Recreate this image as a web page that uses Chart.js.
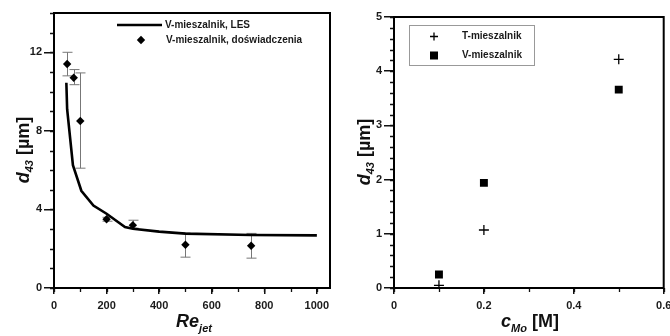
<!DOCTYPE html>
<html>
<head>
<meta charset="utf-8">
<title>d43 - mieszalniki</title>
<script src="https://cdn.jsdelivr.net/npm/chart.js"></script>
<style>
    body { margin: 0; background: #fff; }
    .panel { position: absolute; top: 0; width: 335px; height: 336px; }
    #leftPanel { left: 0; }
    #rightPanel { left: 335px; }
</style>
</head>
<body>
<div class="panel" id="leftPanel"><canvas id="leftChart"></canvas></div>
<div class="panel" id="rightPanel"><canvas id="rightChart"></canvas></div>

<script>
    // left panel: d43 vs Re_jet
    const lesRe  = [47, 50, 72, 104, 150, 200, 270, 300, 400, 500, 750, 1000];
    const lesD43 = [10.45, 9.1, 6.25, 4.95, 4.2, 3.78, 3.1, 3.02, 2.87, 2.77, 2.7, 2.68];
    const expRe   = [50, 75, 100, 200, 300, 500, 750];
    const expD43  = [11.4, 10.7, 8.5, 3.5, 3.2, 2.2, 2.15];
    const expLow  = [10.8, 10.35, 6.1, 3.4, 3.05, 1.57, 1.52];
    const expHigh = [12.0, 11.12, 10.95, 3.6, 3.45, 2.8, 2.78];

    // right panel: d43 vs c_Mo
    const cMo    = [0.1, 0.2, 0.5];
    const tMixer = [0.05, 1.07, 4.22];
    const vMixer = [0.25, 1.94, 3.66];

    const FONT = 'Arial, "Liberation Sans", sans-serif';

    function drawParts(ctx, parts) {
        // parts drawn left to right, centred on the current origin
        let total = 0;
        parts.forEach(p => { ctx.font = p.font; total += ctx.measureText(p.t).width; });
        let x = -total / 2;
        parts.forEach(p => {
            ctx.font = p.font;
            ctx.fillText(p.t, x, p.dy);
            x += ctx.measureText(p.t).width;
        });
    }

    function minorTicks(ctx, chart, axis, step) {
        const s = chart.scales[axis];
        const a = chart.chartArea;
        ctx.save();
        ctx.strokeStyle = '#111';
        ctx.lineWidth = 1.3;
        ctx.beginPath();
        for (let v = s.min; v <= s.max + 1e-9; v += step) {
            const p = Math.round(s.getPixelForValue(v)) + 0.5;
            if (axis === 'x') { ctx.moveTo(p, a.bottom); ctx.lineTo(p, a.bottom + 4); }
            else { ctx.moveTo(a.left - 4, p); ctx.lineTo(a.left, p); }
        }
        ctx.stroke();
        ctx.restore();
    }

    // plugin factory, config kept out of chart options (functions there get resolved as scriptables)
    function makeDeco(o) {
        return {
            id: 'deco',
            beforeDatasetsDraw(chart) {
                if (o.errors) o.errors(chart);
            },
            afterDraw(chart) {
                const ctx = chart.ctx;
                const a = chart.chartArea;
                minorTicks(ctx, chart, 'x', o.minorX);
                minorTicks(ctx, chart, 'y', o.minorY);
                ctx.save();
                ctx.strokeStyle = '#000';
                ctx.lineWidth = 2;
                ctx.strokeRect(a.left, a.top, a.right - a.left, a.bottom - a.top);
                ctx.fillStyle = '#111';
                ctx.textBaseline = 'alphabetic';
                ctx.save();
                ctx.translate(o.xTitlePos[0], o.xTitlePos[1]);
                drawParts(ctx, o.xTitle);
                ctx.restore();
                ctx.save();
                ctx.translate(o.yTitlePos[0], o.yTitlePos[1]);
                ctx.rotate(-Math.PI / 2);
                drawParts(ctx, o.yTitle);
                ctx.restore();
                ctx.restore();
                o.legend(chart);
            }
        };
    }

    function axisOpts(min, max, step, width, height, fmt, tick, pad) {
        return {
            type: 'linear',
            min: min,
            max: max,
            afterFit(s) {
                if (width) s.width = width;
                if (height) s.height = height;
                s.paddingLeft = 0; s.paddingRight = 0;
                s.paddingTop = 0; s.paddingBottom = 0;
            },
            grid: { drawOnChartArea: false, drawTicks: true, tickLength: tick, color: '#111', lineWidth: 1.5 },
            border: { display: false },
            ticks: {
                stepSize: step,
                includeBounds: false,
                padding: pad,
                color: '#1a1a1a',
                font: { family: FONT, size: 11, weight: 'bold' },
                callback: fmt || (v => v)
            }
        };
    }

    // ---------- left chart ----------
    new Chart(document.getElementById('leftChart'), {
        type: 'scatter',
        data: {
            datasets: [
                {
                    label: 'V-mieszalnik, LES',
                    type: 'line',
                    data: lesRe.map((x, i) => ({ x: x, y: lesD43[i] })),
                    borderColor: '#000',
                    borderWidth: 2.6,
                    pointRadius: 0,
                    tension: 0,
                    order: 1
                },
                {
                    label: 'V-mieszalnik, doświadczenia',
                    data: expRe.map((x, i) => ({ x: x, y: expD43[i] })),
                    pointStyle: 'rectRot',
                    pointRadius: 4.2,
                    backgroundColor: '#000',
                    borderColor: '#000',
                    borderWidth: 0,
                    order: 0
                }
            ]
        },
        options: {
            responsive: true,
            maintainAspectRatio: false,
            animation: false,
            layout: { padding: { left: 0, right: 5, top: 13, bottom: 0 } },
            scales: {
                x: axisOpts(0, 1050, 200, 0, 48, null, 6, 5),
                y: axisOpts(0, 14, 4, 54, 0, null, 10, 2)
            },
            plugins: {
                legend: { display: false },
                tooltip: { enabled: false }
            }
        },
        plugins: [makeDeco({
            minorX: 100,
            minorY: 1,
            xTitlePos: [194, 327],
            xTitle: [
                { t: 'Re', font: 'italic bold 18px ' + FONT, dy: 0 },
                { t: 'jet', font: 'italic bold 11px ' + FONT, dy: 5 }
            ],
            yTitlePos: [29, 150],
            yTitle: [
                { t: 'd', font: 'italic bold 18px ' + FONT, dy: 0 },
                { t: '43', font: 'italic bold 11px ' + FONT, dy: 4 },
                { t: ' [µm]', font: 'bold 18px ' + FONT, dy: 0 }
            ],
            errors(chart) {
                const ctx = chart.ctx, xs = chart.scales.x, ys = chart.scales.y;
                ctx.save();
                ctx.strokeStyle = '#777';
                ctx.lineWidth = 1;
                ctx.beginPath();
                expRe.forEach((r, i) => {
                    const px = Math.round(xs.getPixelForValue(r)) + 0.5;
                    const lo = ys.getPixelForValue(expLow[i]);
                    const hi = ys.getPixelForValue(expHigh[i]);
                    ctx.moveTo(px, lo); ctx.lineTo(px, hi);
                    ctx.moveTo(px - 5, lo); ctx.lineTo(px + 5, lo);
                    ctx.moveTo(px - 5, hi); ctx.lineTo(px + 5, hi);
                });
                ctx.stroke();
                ctx.restore();
            },
            legend(chart) {
                const ctx = chart.ctx;
                const ds = chart.data.datasets;
                ctx.save();
                ctx.strokeStyle = '#000';
                ctx.lineWidth = 2.6;
                ctx.beginPath();
                ctx.moveTo(117, 25); ctx.lineTo(162, 25);
                ctx.stroke();
                ctx.fillStyle = '#000';
                ctx.beginPath();
                ctx.moveTo(141, 35.8); ctx.lineTo(145.2, 40);
                ctx.lineTo(141, 44.2); ctx.lineTo(136.8, 40);
                ctx.closePath(); ctx.fill();
                ctx.fillStyle = '#1a1a1a';
                ctx.font = 'bold 10px ' + FONT;
                ctx.textBaseline = 'middle';
                ctx.fillText(ds[0].label, 165, 25);
                ctx.fillText(ds[1].label, 166, 40);
                ctx.restore();
            }
        })]
    });

    // ---------- right chart ----------
    new Chart(document.getElementById('rightChart'), {
        type: 'scatter',
        data: {
            datasets: [
                {
                    label: 'T-mieszalnik',
                    data: cMo.map((x, i) => ({ x: x, y: tMixer[i] })),
                    pointStyle: 'cross',
                    pointRadius: 5,
                    borderColor: '#000',
                    borderWidth: 1.3
                },
                {
                    label: 'V-mieszalnik',
                    data: cMo.map((x, i) => ({ x: x, y: vMixer[i] })),
                    pointStyle: 'rect',
                    pointRadius: 5.6,
                    backgroundColor: '#000',
                    borderColor: '#000',
                    borderWidth: 0
                }
            ]
        },
        options: {
            responsive: true,
            maintainAspectRatio: false,
            animation: false,
            layout: { padding: { left: 0, right: 3, top: 17, bottom: 0 } },
            scales: {
                x: axisOpts(0, 0.6, 0.2, 0, 48, v => Number(v.toFixed(1)).toString(), 6, 5),
                y: axisOpts(0, 5, 1, 59, 0, null, 10, 2)
            },
            plugins: {
                legend: { display: false },
                tooltip: { enabled: false }
            }
        },
        plugins: [makeDeco({
            minorX: 0.1,
            minorY: 0.2,
            xTitlePos: [195, 327],
            xTitle: [
                { t: 'c', font: 'italic bold 18px ' + FONT, dy: 0 },
                { t: 'Mo', font: 'italic bold 11px ' + FONT, dy: 5 },
                { t: ' [M]', font: 'bold 18px ' + FONT, dy: 0 }
            ],
            yTitlePos: [35, 152],
            yTitle: [
                { t: 'd', font: 'italic bold 18px ' + FONT, dy: 0 },
                { t: '43', font: 'italic bold 11px ' + FONT, dy: 4 },
                { t: ' [µm]', font: 'bold 18px ' + FONT, dy: 0 }
            ],
            legend(chart) {
                const ctx = chart.ctx;
                const ds = chart.data.datasets;
                ctx.save();
                ctx.strokeStyle = '#999';
                ctx.lineWidth = 1;
                ctx.strokeRect(74.5, 25.5, 125, 40);
                ctx.strokeStyle = '#000';
                ctx.lineWidth = 1.3;
                ctx.beginPath();
                ctx.moveTo(95, 36.5); ctx.lineTo(103, 36.5);
                ctx.moveTo(99, 32.5); ctx.lineTo(99, 40.5);
                ctx.stroke();
                ctx.fillStyle = '#000';
                ctx.fillRect(95, 51.5, 8, 8);
                ctx.fillStyle = '#1a1a1a';
                ctx.font = 'bold 10px ' + FONT;
                ctx.textBaseline = 'middle';
                ctx.fillText(ds[0].label, 127, 36.5);
                ctx.fillText(ds[1].label, 127, 55.5);
                ctx.restore();
            }
        })]
    });
</script>
</body>
</html>
